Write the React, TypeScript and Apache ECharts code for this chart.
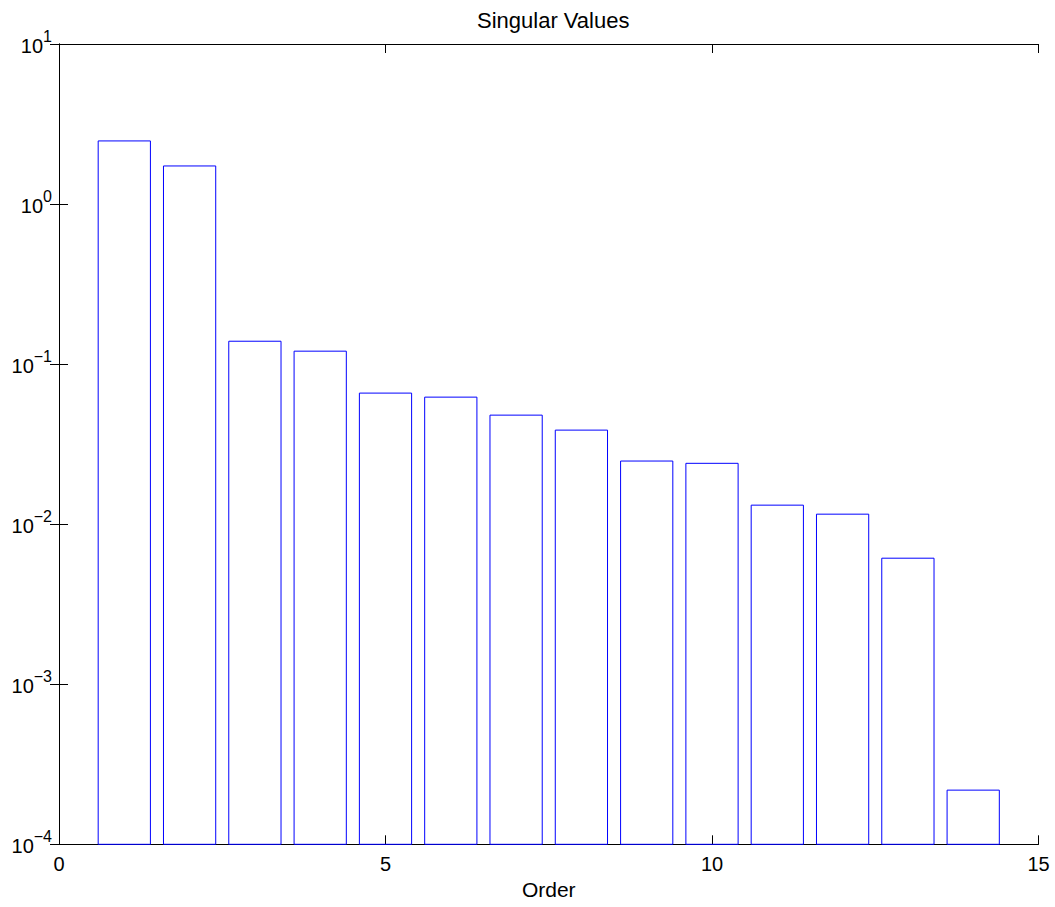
import React, { useEffect, useRef } from "react";
import * as echarts from "echarts";

const orders = [1, 2, 3, 4, 5, 6, 7, 8, 9, 10, 11, 12, 13, 14];
const singularValues = [
  2.48, 1.73, 0.139, 0.1205, 0.0659, 0.0622, 0.048, 0.0387, 0.0248, 0.024,
  0.01315, 0.01155, 0.00613, 0.000218,
];
const xTicks = [0, 5, 10, 15];
const yExponents = [-4, -3, -2, -1, 0, 1];
const chartTitle = "Singular Values";
const xLabel = "Order";

const BAR_HALF = 0.4;
const Y_MIN = Math.pow(10, yExponents[0]);
const Y_MAX = Math.pow(10, yExponents[yExponents.length - 1]);
const FONT = "'Liberation Sans', Arial, Helvetica, sans-serif";

export default function App() {
  const ref = useRef<HTMLDivElement>(null);
  useEffect(() => {
    document.body.style.margin = "0";
    if (!ref.current) return;
    const chart = echarts.init(ref.current, null, { renderer: "svg" });
    const axisLine = { show: true, lineStyle: { color: "#000", width: 1 } };
    const tick = { show: true, inside: true, length: 9, lineStyle: { color: "#000", width: 1 } };
    chart.setOption({
      animation: false,
      backgroundColor: "#fff",
      title: {
        text: chartTitle,
        left: 472,
        top: 4,
        textStyle: { fontFamily: FONT, fontSize: 22, fontWeight: "normal", color: "#000" },
      },
      grid: { left: 59, right: 16.5, top: 44, bottom: 62.7, containLabel: false },
      xAxis: [
        {
          type: "value",
          min: xTicks[0],
          max: xTicks[xTicks.length - 1],
          interval: 5,
          position: "bottom",
          name: xLabel,
          nameLocation: "middle",
          nameGap: 33,
          nameTextStyle: { fontFamily: FONT, fontSize: 21, color: "#000" },
          axisLine,
          axisTick: tick,
          splitLine: { show: false },
          axisLabel: { fontFamily: FONT, fontSize: 20, color: "#000", margin: 10 },
        },
        {
          type: "value",
          min: xTicks[0],
          max: xTicks[xTicks.length - 1],
          interval: 5,
          position: "top",
          axisLine,
          axisTick: tick,
          splitLine: { show: false },
          axisLabel: { show: false },
        },
      ],
      yAxis: [
        {
          type: "log",
          logBase: 10,
          min: Y_MIN,
          max: Y_MAX,
          position: "left",
          axisLine,
          axisTick: tick,
          minorTick: { show: false },
          splitLine: { show: false },
          axisLabel: {
            margin: 7,
            formatter: (v: number) => {
              const e = Math.round(Math.log10(v));
              const s = e < 0 ? "\u2212" + Math.abs(e) : String(e);
              return "{b|10}{e|" + s + "}";
            },
            rich: {
              b: { fontFamily: FONT, fontSize: 20, color: "#000", lineHeight: 24, verticalAlign: "bottom" },
              e: { fontFamily: FONT, fontSize: 16, color: "#000", lineHeight: 16, padding: [0, 0, 12, 0], verticalAlign: "bottom" },
            },
          },
        },
        {
          type: "log",
          logBase: 10,
          min: Y_MIN,
          max: Y_MAX,
          position: "right",
          axisLine,
          axisTick: tick,
          minorTick: { show: false },
          splitLine: { show: false },
          axisLabel: { show: false },
        },
      ],
      series: [
        {
          type: "custom",
          xAxisIndex: 0,
          yAxisIndex: 0,
          data: orders.map((o, i) => [o, singularValues[i]]),
          renderItem: (params: any, api: any) => {
            const x = api.value(0);
            const v = api.value(1);
            const p1 = api.coord([x - BAR_HALF, v]);
            const p2 = api.coord([x + BAR_HALF, Y_MIN]);
            return {
              type: "rect",
              shape: { x: p1[0], y: p1[1], width: p2[0] - p1[0], height: p2[1] - p1[1] },
              style: { fill: "none", stroke: "#0000ff", lineWidth: 1 },
            };
          },
        },
      ],
    });
    return () => chart.dispose();
  }, []);
  return <div ref={ref} style={{ width: 1055, height: 907 }} />;
}
